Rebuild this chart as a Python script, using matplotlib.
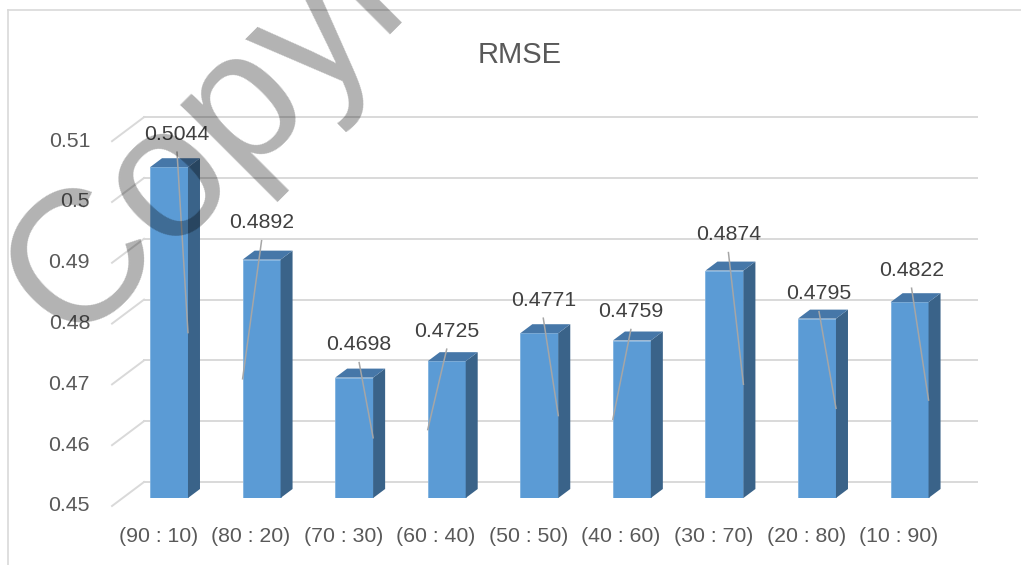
import matplotlib
matplotlib.use('Agg')
import matplotlib.pyplot as plt
from matplotlib.patches import Polygon
from matplotlib.lines import Line2D

plt.rcParams['font.family'] = ['Liberation Sans', 'DejaVu Sans']

# data
categories = ['(90 : 10)', '(80 : 20)', '(70 : 30)', '(60 : 40)', '(50 : 50)',
              '(40 : 60)', '(30 : 70)', '(20 : 80)', '(10 : 90)']
rmse = [0.5044, 0.4892, 0.4698, 0.4725, 0.4771, 0.4759, 0.4874, 0.4795, 0.4822]
y_ticks = [0.45, 0.46, 0.47, 0.48, 0.49, 0.50, 0.51]
y_tick_labels = ['0.45', '0.46', '0.47', '0.48', '0.49', '0.5', '0.51']

# hand-dragged data label nudges (pixels) and which edge the leader line hits
label_dx = [8, 0, 5, 0, 4, -1, 4, 2, 2]
label_dy = [33, 37, 33, 30, 33, 29, 36, 25, 32]
leader_side = [1, -1, 1, -1, 1, -1, 1, 1, 1]

W, H = 1021, 565
fig = plt.figure(figsize=(W / 100, H / 100), dpi=100)
ax_l, ax_b, ax_w, ax_h = 0.1202, 0.1186, 0.816, 0.6457
ax = fig.add_axes([ax_l, ax_b, ax_w, ax_h])
ax.set_xlim(-0.5, 8.5)
ax.set_ylim(0.45, 0.51)
ax.axis('off')

# pixel -> data conversion, for the fake 3d depth
px_x = 9.0 / (ax_w * W)
px_y = 0.06 / (ax_h * H)

grid_col = '#d9d9d9'
text_col = '#595959'
bar_w = 0.41

# back wall gridlines + left side wall lines
for t, lab in zip(y_ticks, y_tick_labels):
    ax.plot([-0.5 + 21.3 * px_x, 8.5 + 21.3 * px_x], [t + 16 * px_y, t + 16 * px_y],
            color=grid_col, lw=1.4, clip_on=False, zorder=1)
    ax.plot([-0.5 - 10.7 * px_x, -0.5 + 21.3 * px_x], [t - 8 * px_y, t + 16 * px_y],
            color=grid_col, lw=1.4, clip_on=False, zorder=1)
    ax.text(-0.5 - 32.7 * px_x, t - 8 * px_y, lab,
            ha='right', va='center', fontsize=15.3, color=text_col)

# bars with side and top faces
dx, dy = 12 * px_x, 9 * px_y
for i, v in enumerate(rmse):
    ax.bar(i, v - 0.45, bottom=0.45, width=bar_w, color='#5B9BD5',
           edgecolor='#7fb2e0', linewidth=0.6, zorder=3)
    xl, xr = i - bar_w / 2, i + bar_w / 2
    side = Polygon([(xr, 0.45), (xr, v), (xr + dx, v + dy), (xr + dx, 0.45 + dy)],
                   closed=True, facecolor='#3A6389', edgecolor='none', zorder=3)
    top = Polygon([(xl, v), (xr, v), (xr + dx, v + dy), (xl + dx, v + dy)],
                  closed=True, facecolor='#4677A8', edgecolor='none', zorder=3)
    ax.add_patch(side)
    ax.add_patch(top)

    # data label with leader line
    lx = i + label_dx[i] * px_x
    ly = v + label_dy[i] * px_y
    ax.text(lx, ly, f'{v:.4f}', ha='center', va='center', fontsize=15.3,
            color='#404040', zorder=5)
    ax.plot([lx, i + leader_side[i] * bar_w / 2], [ly - 18 * px_y, (0.45 + v) / 2],
            color='#a6a6a6', lw=1.1, zorder=4)

    # category label on the front edge of the floor
    ax.text(i - 10.7 * px_x, 0.45 - 39 * px_y, categories[i], ha='center', va='center',
            fontsize=15.3, color=text_col)

fig.text(520 / W, 1 - 55 / H, 'RMSE', ha='center', va='center', fontsize=21, color=text_col)

# chart area border (top and left only visible)
fig.add_artist(Line2D([8 / W, 1], [1 - 10 / H, 1 - 10 / H], color=grid_col, lw=1.2))
fig.add_artist(Line2D([8 / W, 8 / W], [0, 1 - 10 / H], color=grid_col, lw=1.2))

# watermark
fig.text(70 / W, 1 - 345 / H, 'Copyright', rotation=45, rotation_mode='anchor',
         ha='left', va='baseline', fontsize=135, color='black', alpha=0.3, zorder=10)

fig.savefig('out.png', dpi=100)
